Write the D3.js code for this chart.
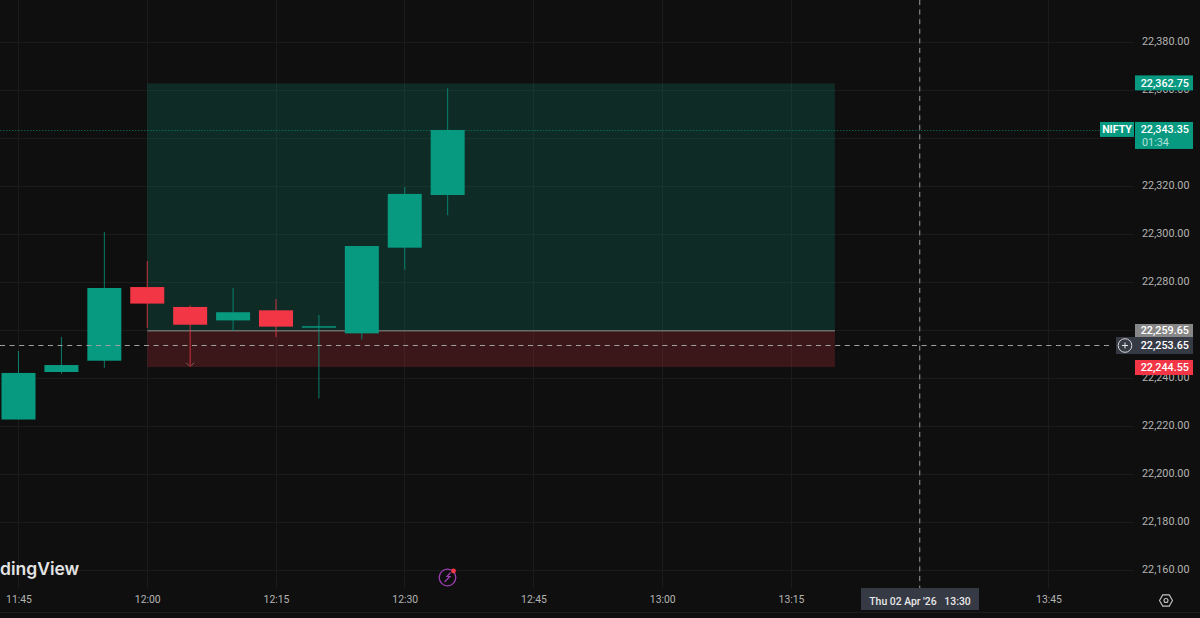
<!DOCTYPE html>
<html><head><meta charset="utf-8">
<script src="https://cdn.jsdelivr.net/npm/d3@7"></script>
<style>
html,body{margin:0;padding:0;background:#0f0f0f;overflow:hidden}
svg{display:block}
text{font-family:Roboto,"Liberation Sans",sans-serif}
</style></head><body>
<svg id="c" width="1200" height="618"></svg>
<script>
const candleTimes=["11:45","11:50","11:55","12:00","12:05","12:10","12:15","12:20","12:25","12:30","12:35"];
const opens =[22222.7,22242.5,22247.2,22277.9,22269.6,22264.0,22268.2,22261.0,22258.6,22294.3,22316.25];
const highs =[22251.25,22257.1,22300.8,22288.75,22270.3,22277.5,22272.9,22266.25,22295.0,22319.6,22360.7];
const lows  =[22222.7,22241.8,22244.2,22260.8,22244.7,22259.6,22257.1,22231.5,22256.0,22285.1,22307.8];
const closes=[22242.1,22245.4,22277.5,22271.0,22262.2,22267.4,22261.4,22261.7,22295.0,22316.7,22343.35];
const priceTicks=[22380,22360,22340,22320,22300,22280,22260,22240,22220,22200,22180,22160];
const hiddenTicks=[22340,22260];
const timeTicks=["11:45","12:00","12:15","12:30","12:45","13:00","13:15","13:30","13:45"];
const hiddenTimeTicks=["13:30"];
const targetPrice=22362.75, entryPrice=22259.65, stopPrice=22244.55, lastPrice=22343.35, crossPrice=22253.65;
const positionStart="12:00", positionEnd="13:20", crossTime="13:30";
const countdown="01:34", symbol="NIFTY", crossLabel="Thu 02 Apr '26   13:30", brand="dingView";

const bg="#0f0f0f",grid="#1b1b1b",up="#089981",down="#f23645",axisText="#b4b4b4";
const mins=s=>{const[a,b]=s.split(":").map(Number);return a*60+b};
const fmt=d3.format(",.2f");
const x=d3.scaleLinear().domain([mins("11:45"),mins("13:45")]).range([18.5,1048.5]);
const y=d3.scaleLinear().domain([22380,22160]).range([42,570]);
const svg=d3.select("#c");
const W=1200,plotR=1134,plotB=588;

svg.append("rect").attr("width",W).attr("height",618).attr("fill",bg);

// grid
const g=svg.append("g").attr("shape-rendering","crispEdges");
g.selectAll(".v").data(timeTicks).join("line").attr("x1",d=>Math.floor(x(mins(d)))+.5).attr("x2",d=>Math.floor(x(mins(d)))+.5)
 .attr("y1",0).attr("y2",plotB).attr("stroke",grid);
g.selectAll(".h").data(priceTicks).join("line").attr("y1",d=>Math.round(y(d))+.5).attr("y2",d=>Math.round(y(d))+.5)
 .attr("x1",0).attr("x2",plotR).attr("stroke",grid);

// position tool
const px0=x(mins(positionStart)),px1=x(mins(positionEnd))+1;
svg.append("rect").attr("x",px0).attr("width",px1-px0).attr("y",y(targetPrice)).attr("height",y(entryPrice)-y(targetPrice)).attr("fill","#089981").attr("fill-opacity",.2);
svg.append("rect").attr("x",px0).attr("width",px1-px0).attr("y",y(entryPrice)).attr("height",y(stopPrice)-y(entryPrice)).attr("fill","#f23645").attr("fill-opacity",.2);
svg.append("line").attr("x1",px0).attr("x2",px1).attr("y1",y(entryPrice)).attr("y2",y(entryPrice)).attr("stroke","#8a8f8e").attr("stroke-width",1);

// last price line
svg.append("line").attr("x1",0).attr("x2",1100).attr("y1",Math.round(y(lastPrice))+.5).attr("y2",Math.round(y(lastPrice))+.5)
 .attr("stroke",up).attr("stroke-opacity",.55).attr("stroke-dasharray","1.5 1.5");

// candles
const cs=candleTimes.map((t,i)=>({t,o:opens[i],h:highs[i],l:lows[i],c:closes[i],col:closes[i]>=opens[i]?up:down}));
const cg=svg.append("g");
cg.selectAll("line").data(cs).join("line")
 .attr("x1",d=>x(mins(d.t))).attr("x2",d=>x(mins(d.t)))
 .attr("y1",d=>y(d.h)).attr("y2",d=>y(d.l)).attr("stroke",d=>d.col).attr("stroke-opacity",.8).attr("stroke-width",1);
cg.selectAll("rect").data(cs).join("rect")
 .attr("x",d=>x(mins(d.t))-17).attr("width",34)
 .attr("y",d=>y(Math.max(d.o,d.c))).attr("height",d=>Math.max(2,Math.abs(y(d.o)-y(d.c))))
 .attr("fill",d=>d.col).attr("fill-opacity",d=>Math.abs(y(d.o)-y(d.c))<3?.75:1);

// small arrow under the 12:05 candle
const ax=x(mins("12:05")),ay=y(lows[4]);
svg.append("path").attr("d",`M${ax-4} ${ay-4}L${ax-1} ${ay-1}M${ax+4} ${ay-4}L${ax+1} ${ay-1}`).attr("stroke","#8a5a5e").attr("fill","none");

// crosshair
svg.append("line").attr("x1",0).attr("x2",1112).attr("y1",Math.round(y(crossPrice))+.5).attr("y2",Math.round(y(crossPrice))+.5)
 .attr("stroke","#a0a0a0").attr("stroke-dasharray","5 4.6");
svg.append("line").attr("x1",x(mins(crossTime))).attr("x2",x(mins(crossTime))).attr("y1",0).attr("y2",plotB)
 .attr("stroke","#9a9a9a").attr("stroke-dasharray","5 4.6");

// price axis
const axisR=d3.axisRight(y).tickValues(priceTicks.filter(v=>!hiddenTicks.includes(v))).tickSize(0).tickFormat(fmt);
const ga=svg.append("g").attr("transform","translate(1142,-1)").call(axisR);
ga.select(".domain").remove();
ga.selectAll("text").attr("x",0).attr("fill",axisText).attr("font-size",10.8).attr("font-family","Roboto");

// time axis
const axisB=d3.axisBottom(x).tickValues(timeTicks.filter(t=>!hiddenTimeTicks.includes(t)).map(mins)).tickSize(0)
 .tickFormat(m=>String(Math.floor(m/60)).padStart(2,"0")+":"+String(m%60).padStart(2,"0"));
const gb=svg.append("g").attr("transform","translate(0,596)").call(axisB);
gb.select(".domain").remove();
gb.selectAll("text").attr("y",0).attr("dy","0.71em").attr("fill",axisText).attr("font-size",10.4).attr("font-family","Roboto");

// price labels
function lab(val,y0,y1,fill,col){
 svg.append("rect").attr("x",1135).attr("width",58).attr("y",y0).attr("height",y1-y0).attr("fill",fill);
 svg.append("text").attr("x",1189).attr("y",(y0+Math.min(y1,y0+15.5))/2).attr("dy","0.35em").attr("text-anchor","end")
  .attr("font-size",10.8).attr("font-weight",500).attr("fill",col).text(fmt(val));
}
lab(targetPrice,y(targetPrice)-8,y(targetPrice)+7,up,"#fff");
lab(lastPrice,y(lastPrice)-8,y(lastPrice)+19,up,"#fff");
svg.append("text").attr("x",1142).attr("y",142).attr("dy","0.35em").attr("font-size",10.8).attr("fill","#b5e0d8").text(countdown);
svg.append("rect").attr("x",1100).attr("width",34).attr("y",y(lastPrice)-8).attr("height",15).attr("fill",up);
svg.append("text").attr("x",1117).attr("y",y(lastPrice)-.5).attr("dy","0.35em").attr("text-anchor","middle").attr("font-size",10.6).attr("font-weight",700).attr("fill","#fff").text(symbol);
lab(entryPrice,324,337,"#878787","#fff");
lab(crossPrice,337,354,"#363a45","#fff");
lab(stopPrice,360,375,"#f23645","#fff");

// plus button
svg.append("rect").attr("x",1116).attr("width",19).attr("y",337).attr("height",17).attr("fill","#363a45");
svg.append("circle").attr("cx",1125).attr("cy",345.5).attr("r",6.8).attr("fill","none").attr("stroke","#d8d8d8");
svg.append("path").attr("d","M1122 345.5h6M1125 342.5v6").attr("stroke","#e8e8e8").attr("fill","none");

// crosshair time label
svg.append("rect").attr("x",861).attr("width",118).attr("y",588).attr("height",22).attr("fill","#363a45");
svg.append("text").attr("x",920).attr("y",601).attr("dy","0.35em").attr("text-anchor","middle").attr("font-size",10.4).attr("font-weight",500).attr("fill","#e8e8e8").attr("xml:space","preserve").style("white-space","pre").text(crossLabel);

// brand
svg.append("text").attr("x",0).attr("y",575).attr("font-family","Inter").style("font-family","Inter,Roboto,sans-serif").attr("font-size",17.5).attr("font-weight",600).attr("fill","#e4e4e4").text(brand);

// lightning icon
svg.append("circle").attr("cx",447.5).attr("cy",577.5).attr("r",8.3).attr("fill","none").attr("stroke","#9c3fb0").attr("stroke-width",1.3);
svg.append("path").attr("d","M450.5 572.5L447 576.5H450L444.5 582").attr("fill","none").attr("stroke","#9c3fb0").attr("stroke-width",1.2);
svg.append("circle").attr("cx",453.5).attr("cy",571).attr("r",2.4).attr("fill","#f23645");

// settings icon
const hex=d3.range(6).map(i=>{const a=Math.PI/3*i;return [1166+6.5*Math.cos(a),600.5+6.5*Math.sin(a)]});
svg.append("path").attr("d",d3.line()(hex)+"Z").attr("fill","none").attr("stroke","#c4c4c4").attr("stroke-width",1.1);
svg.append("circle").attr("cx",1166).attr("cy",600.5).attr("r",2).attr("fill","none").attr("stroke","#c4c4c4").attr("stroke-width",1.1);

// bottom border
svg.append("line").attr("x1",0).attr("x2",W).attr("y1",612.5).attr("y2",612.5).attr("stroke","#1d1d1d").attr("stroke-width",1);
</script>
</body></html>
